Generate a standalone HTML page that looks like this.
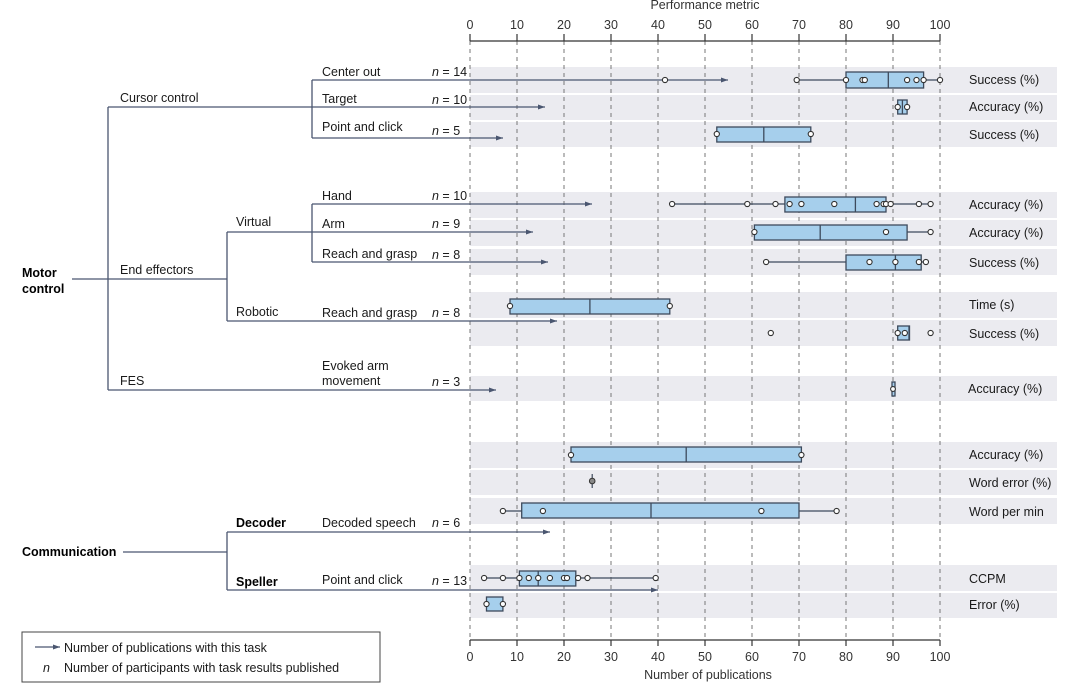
<!DOCTYPE html>
<html><head><meta charset="utf-8"><style>
html,body{margin:0;padding:0;background:#fff}
svg{display:block;font-family:"Liberation Sans",sans-serif}
.t{font-size:12.5px;fill:#1a1a1a}
.b{font-size:12.5px;font-weight:bold;fill:#000}
.tk{font-size:12.5px;fill:#333}
.band{fill:#ebebf0}
.grid{stroke:#777;stroke-width:1;stroke-dasharray:4,4}
.ln{stroke:#4a5670;stroke-width:1.3;fill:none}
.bx{fill:#a6cfec;stroke:#3d4a5c;stroke-width:1.3}
.md{stroke:#3d4a5c;stroke-width:1.3}
.w{stroke:#3d4a5c;stroke-width:1.2}
.p{fill:#fff;stroke:#333;stroke-width:1.1}
.i{font-style:italic}
</style></head><body>
<svg width="1080" height="691" viewBox="0 0 1080 691">
<defs><marker id="ar" markerWidth="8" markerHeight="8" refX="7" refY="4" orient="auto" markerUnits="userSpaceOnUse"><path d="M0,1.5 L7,4 L0,6.5 Z" fill="#4a5670"/></marker></defs>
<!-- bands -->
<g class="band">
<rect x="470" y="67" width="587" height="26"/><rect x="470" y="95" width="587" height="25"/><rect x="470" y="122" width="587" height="25"/>
<rect x="470" y="192" width="587" height="26"/><rect x="470" y="220" width="587" height="26"/><rect x="470" y="249" width="587" height="26"/>
<rect x="470" y="292" width="587" height="26"/><rect x="470" y="320" width="587" height="26"/><rect x="470" y="376" width="587" height="25"/>
<rect x="470" y="442" width="587" height="26"/><rect x="470" y="470" width="587" height="25"/><rect x="470" y="498" width="587" height="26"/>
<rect x="470" y="565" width="587" height="26"/><rect x="470" y="593" width="587" height="25"/>
</g>
<!-- grid -->
<g class="grid">
<line x1="470" y1="41" x2="470" y2="640"/><line x1="517" y1="41" x2="517" y2="640"/><line x1="564" y1="41" x2="564" y2="640"/><line x1="611" y1="41" x2="611" y2="640"/><line x1="658" y1="41" x2="658" y2="640"/><line x1="705" y1="41" x2="705" y2="640"/><line x1="752" y1="41" x2="752" y2="640"/><line x1="799" y1="41" x2="799" y2="640"/><line x1="846" y1="41" x2="846" y2="640"/><line x1="893" y1="41" x2="893" y2="640"/><line x1="940" y1="41" x2="940" y2="640"/>
</g>
<!-- axes -->
<g stroke="#333" stroke-width="1.2">
<line x1="470" y1="41" x2="940" y2="41"/><line x1="470" y1="640" x2="940" y2="640"/>
<line x1="470" y1="34" x2="470" y2="41"/><line x1="517" y1="34" x2="517" y2="41"/><line x1="564" y1="34" x2="564" y2="41"/><line x1="611" y1="34" x2="611" y2="41"/><line x1="658" y1="34" x2="658" y2="41"/><line x1="705" y1="34" x2="705" y2="41"/><line x1="752" y1="34" x2="752" y2="41"/><line x1="799" y1="34" x2="799" y2="41"/><line x1="846" y1="34" x2="846" y2="41"/><line x1="893" y1="34" x2="893" y2="41"/><line x1="940" y1="34" x2="940" y2="41"/>
<line x1="470" y1="640" x2="470" y2="646"/><line x1="517" y1="640" x2="517" y2="646"/><line x1="564" y1="640" x2="564" y2="646"/><line x1="611" y1="640" x2="611" y2="646"/><line x1="658" y1="640" x2="658" y2="646"/><line x1="705" y1="640" x2="705" y2="646"/><line x1="752" y1="640" x2="752" y2="646"/><line x1="799" y1="640" x2="799" y2="646"/><line x1="846" y1="640" x2="846" y2="646"/><line x1="893" y1="640" x2="893" y2="646"/><line x1="940" y1="640" x2="940" y2="646"/>
</g>
<g class="tk" text-anchor="middle">
<text x="705" y="9">Performance metric</text>
<text x="470" y="29">0</text><text x="517" y="29">10</text><text x="564" y="29">20</text><text x="611" y="29">30</text><text x="658" y="29">40</text><text x="705" y="29">50</text><text x="752" y="29">60</text><text x="799" y="29">70</text><text x="846" y="29">80</text><text x="893" y="29">90</text><text x="940" y="29">100</text>
<text x="470" y="661">0</text><text x="517" y="661">10</text><text x="564" y="661">20</text><text x="611" y="661">30</text><text x="658" y="661">40</text><text x="705" y="661">50</text><text x="752" y="661">60</text><text x="799" y="661">70</text><text x="846" y="661">80</text><text x="893" y="661">90</text><text x="940" y="661">100</text>
<text x="708" y="679">Number of publications</text>
</g>
<!-- tree -->
<g class="ln">
<line x1="72" y1="279" x2="227" y2="279"/>
<line x1="108" y1="107" x2="108" y2="390"/>
<line x1="108" y1="107" x2="312" y2="107"/>
<line x1="312" y1="80" x2="312" y2="138"/>
<line x1="227" y1="232" x2="227" y2="321"/>
<line x1="312" y1="204" x2="312" y2="262"/>
<line x1="227" y1="232" x2="312" y2="232"/>
<line x1="123" y1="552" x2="227" y2="552"/>
<line x1="227" y1="532" x2="227" y2="590"/>
</g>
<g class="ln" marker-end="url(#ar)">
<line x1="312" y1="80" x2="728" y2="80"/>
<line x1="312" y1="107" x2="545" y2="107"/>
<line x1="312" y1="138" x2="503" y2="138"/>
<line x1="312" y1="204" x2="592" y2="204"/>
<line x1="312" y1="232" x2="533" y2="232"/>
<line x1="312" y1="262" x2="548" y2="262"/>
<line x1="227" y1="321" x2="557" y2="321"/>
<line x1="108" y1="390" x2="496" y2="390"/>
<line x1="227" y1="532" x2="550" y2="532"/>
<line x1="227" y1="590" x2="658" y2="590"/>
</g>
<g class="t">
<text x="120" y="102">Cursor control</text>
<text x="120" y="274">End effectors</text>
<text x="120" y="385">FES</text>
<text x="236" y="226">Virtual</text>
<text x="236" y="316">Robotic</text>
<text x="322" y="76">Center out</text>
<text x="322" y="103">Target</text>
<text x="322" y="131">Point and click</text>
<text x="322" y="200">Hand</text>
<text x="322" y="228">Arm</text>
<text x="322" y="258">Reach and grasp</text>
<text x="322" y="317">Reach and grasp</text>
<text x="322" y="370">Evoked arm</text>
<text x="322" y="385">movement</text>
<text x="322" y="527">Decoded speech</text>
<text x="322" y="584">Point and click</text>
<text x="432" y="76"><tspan class="i">n</tspan> = 14</text>
<text x="432" y="104"><tspan class="i">n</tspan> = 10</text>
<text x="432" y="135"><tspan class="i">n</tspan> = 5</text>
<text x="432" y="200"><tspan class="i">n</tspan> = 10</text>
<text x="432" y="228"><tspan class="i">n</tspan> = 9</text>
<text x="432" y="259"><tspan class="i">n</tspan> = 8</text>
<text x="432" y="317"><tspan class="i">n</tspan> = 8</text>
<text x="432" y="386"><tspan class="i">n</tspan> = 3</text>
<text x="432" y="527"><tspan class="i">n</tspan> = 6</text>
<text x="432" y="585"><tspan class="i">n</tspan> = 13</text>
</g>
<g class="b">
<text x="22" y="277">Motor</text><text x="22" y="293">control</text>
<text x="22" y="556">Communication</text>
<text x="236" y="527">Decoder</text>
<text x="236" y="586">Speller</text>
</g>
<!-- right labels -->
<g class="t">
<text x="969" y="84">Success (%)</text>
<text x="969" y="111">Accuracy (%)</text>
<text x="969" y="139">Success (%)</text>
<text x="969" y="209">Accuracy (%)</text>
<text x="969" y="237">Accuracy (%)</text>
<text x="969" y="267">Success (%)</text>
<text x="969" y="309">Time (s)</text>
<text x="969" y="338">Success (%)</text>
<text x="968" y="393">Accuracy (%)</text>
<text x="969" y="459">Accuracy (%)</text>
<text x="969" y="487">Word error (%)</text>
<text x="969" y="516">Word per min</text>
<text x="969" y="583">CCPM</text>
<text x="969" y="609">Error (%)</text>
</g>
<!-- boxes -->
<!-- row1 -->
<line class="w" x1="797" y1="80" x2="940" y2="80"/>
<rect class="bx" x="846" y="72" width="77.6" height="16"/><line class="md" x1="888.3" y1="72" x2="888.3" y2="88"/>
<g class="p"><circle cx="665" cy="80" r="2.6"/><circle cx="796.7" cy="80" r="2.6"/><circle cx="846" cy="80" r="2.6"/><circle cx="862.5" cy="80" r="2.6"/><circle cx="864.8" cy="80" r="2.6"/><circle cx="907.1" cy="80" r="2.6"/><circle cx="916.5" cy="80" r="2.6"/><circle cx="923.6" cy="80" r="2.6"/><circle cx="940" cy="80" r="2.6"/></g>
<!-- row2 -->
<rect class="bx" x="897.7" y="100" width="9.4" height="14"/><line class="md" x1="902.4" y1="100" x2="902.4" y2="114"/>
<g class="p"><circle cx="897.7" cy="107" r="2.6"/><circle cx="907.1" cy="107" r="2.6"/></g>
<!-- row3 -->
<rect class="bx" x="716.8" y="127" width="94" height="15"/><line class="md" x1="763.8" y1="127" x2="763.8" y2="142"/>
<g class="p"><circle cx="716.8" cy="134" r="2.6"/><circle cx="810.8" cy="134" r="2.6"/></g>
<!-- hand -->
<line class="w" x1="672" y1="204" x2="930.6" y2="204"/>
<rect class="bx" x="784.9" y="197" width="101.1" height="15"/><line class="md" x1="855.4" y1="197" x2="855.4" y2="212"/>
<g class="p"><circle cx="672.1" cy="204" r="2.6"/><circle cx="747.3" cy="204" r="2.6"/><circle cx="775.5" cy="204" r="2.6"/><circle cx="789.6" cy="204" r="2.6"/><circle cx="801.4" cy="204" r="2.6"/><circle cx="834.3" cy="204" r="2.6"/><circle cx="876.6" cy="204" r="2.6"/><circle cx="883.6" cy="204" r="2.6"/><circle cx="886" cy="204" r="2.6"/><circle cx="890.7" cy="204" r="2.6"/><circle cx="918.9" cy="204" r="2.6"/><circle cx="930.6" cy="204" r="2.6"/></g>
<!-- arm -->
<line class="w" x1="907" y1="232" x2="930.6" y2="232"/>
<rect class="bx" x="754.4" y="225" width="152.7" height="15"/><line class="md" x1="820.2" y1="225" x2="820.2" y2="240"/>
<g class="p"><circle cx="754.4" cy="232" r="2.6"/><circle cx="886" cy="232" r="2.6"/><circle cx="930.6" cy="232" r="2.6"/></g>
<!-- reach -->
<line class="w" x1="766" y1="262" x2="925.9" y2="262"/>
<rect class="bx" x="846" y="255" width="75.2" height="15"/><line class="md" x1="895.4" y1="255" x2="895.4" y2="270"/>
<g class="p"><circle cx="766.1" cy="262" r="2.6"/><circle cx="869.5" cy="262" r="2.6"/><circle cx="895.4" cy="262" r="2.6"/><circle cx="918.9" cy="262" r="2.6"/><circle cx="925.9" cy="262" r="2.6"/></g>
<!-- time -->
<rect class="bx" x="510" y="299" width="159.8" height="15"/><line class="md" x1="589.9" y1="299" x2="589.9" y2="314"/>
<g class="p"><circle cx="510" cy="306" r="2.6"/><circle cx="669.8" cy="306" r="2.6"/></g>
<!-- success robotic -->
<rect class="bx" x="897.7" y="326" width="11.8" height="14"/><line class="md" x1="909" y1="326" x2="909" y2="340"/>
<g class="p"><circle cx="770.8" cy="333" r="2.6"/><circle cx="897.7" cy="333" r="2.6"/><circle cx="904.8" cy="333" r="2.6"/><circle cx="930.6" cy="333" r="2.6"/></g>
<!-- FES -->
<rect class="bx" x="892" y="382" width="3" height="14"/><circle class="p" cx="893" cy="389" r="2.4"/>
<!-- acc comm -->
<rect class="bx" x="571" y="447" width="230.4" height="15"/><line class="md" x1="686.2" y1="447" x2="686.2" y2="462"/>
<g class="p"><circle cx="571" cy="455" r="2.6"/><circle cx="801.4" cy="455" r="2.6"/></g>
<!-- word error -->
<line class="w" x1="592.2" y1="474" x2="592.2" y2="488"/><circle cx="592.2" cy="481" r="2.8" fill="#888" stroke="#333"/>
<!-- wpm -->
<line class="w" x1="503" y1="511" x2="836.6" y2="511"/>
<rect class="bx" x="521.7" y="503" width="277.3" height="15"/><line class="md" x1="651" y1="503" x2="651" y2="518"/>
<g class="p"><circle cx="502.9" cy="511" r="2.6"/><circle cx="542.9" cy="511" r="2.6"/><circle cx="761.4" cy="511" r="2.6"/><circle cx="836.6" cy="511" r="2.6"/></g>
<!-- ccpm -->
<line class="w" x1="484" y1="578" x2="655.7" y2="578"/>
<rect class="bx" x="519.4" y="571" width="56.4" height="15"/><line class="md" x1="538.2" y1="571" x2="538.2" y2="586"/>
<g class="p"><circle cx="484.1" cy="578" r="2.6"/><circle cx="502.9" cy="578" r="2.6"/><circle cx="519.4" cy="578" r="2.6"/><circle cx="528.8" cy="578" r="2.6"/><circle cx="538.2" cy="578" r="2.6"/><circle cx="549.9" cy="578" r="2.6"/><circle cx="564" cy="578" r="2.6"/><circle cx="567" cy="578" r="2.6"/><circle cx="578.1" cy="578" r="2.6"/><circle cx="587.5" cy="578" r="2.6"/><circle cx="655.7" cy="578" r="2.6"/></g>
<!-- error -->
<rect class="bx" x="486.5" y="597" width="16.4" height="14"/>
<g class="p"><circle cx="486.5" cy="604" r="2.6"/><circle cx="502.9" cy="604" r="2.6"/></g>
<!-- legend -->
<rect x="22" y="632" width="358" height="50" fill="none" stroke="#444" stroke-width="1"/>
<line class="ln" x1="35" y1="647" x2="60" y2="647" marker-end="url(#ar)"/>
<g class="t">
<text x="64" y="652">Number of publications with this task</text>
<text x="43" y="672" class="i">n</text>
<text x="64" y="672">Number of participants with task results published</text>
</g>
</svg>
</body></html>
